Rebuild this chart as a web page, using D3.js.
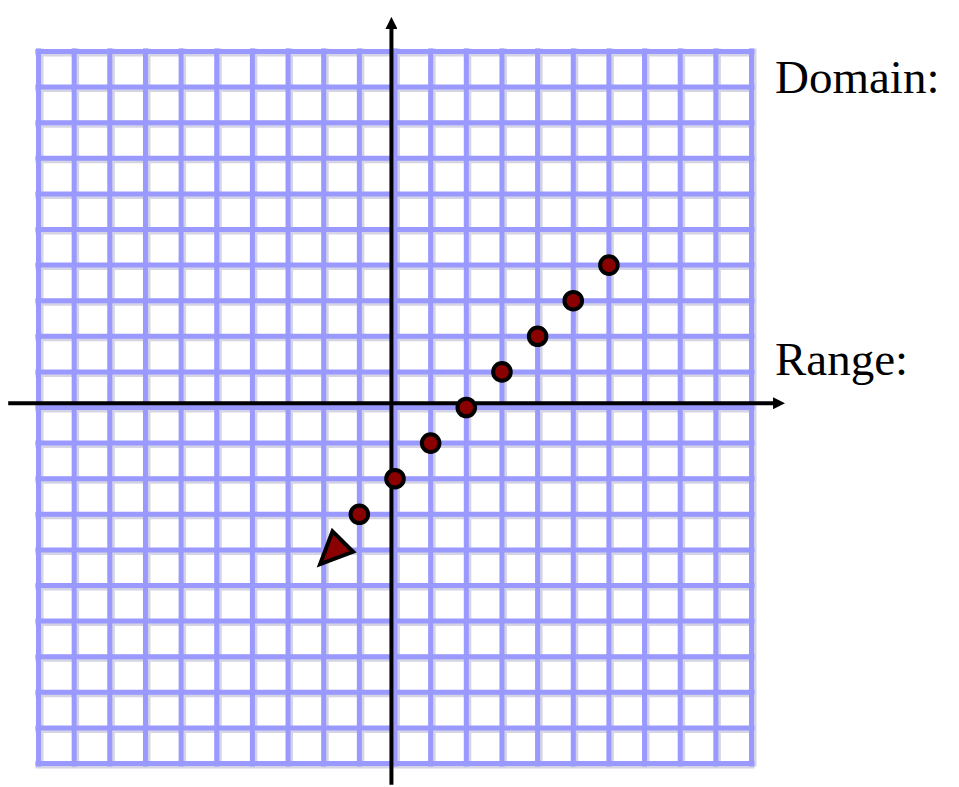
<!DOCTYPE html>
<html><head><meta charset="utf-8">
<script src="https://cdn.jsdelivr.net/npm/d3@7"></script>
<style>html,body{margin:0;padding:0;background:#fff;}svg{display:block;}</style>
</head><body>
<script>
// ---- data ----
const gridTicks = d3.range(-10, 11, 1);           // grid lines at integer values
const pointsX = [6, 5, 4, 3, 2, 1, 0, -1];
const pointsY = [4, 3, 2, 1, 0, -1, -2, -3];
const arrowTip = [-2.1, -4.4];                    // end arrowhead of the point sequence
const axisOrigin = [-0.1, 0.12];                  // where the drawn axes cross
const xAxisExtent = [-10.85, 10.97];
const yAxisExtent = [-10.6, 11.0];
const labels = ["Domain:", "Range:"];
const labelY = [8.83, 0.91];

const W = 959, H = 787;
const x = d3.scaleLinear().domain([-10, 10]).range([38.5, 751.5]);
const y = d3.scaleLinear().domain([-10, 10]).range([763.5, 51.5]);

const svg = d3.select("body").append("svg").attr("width", W).attr("height", H);
const defs = svg.append("defs");
defs.append("marker").attr("id", "ah").attr("viewBox", "0 0 12 12")
  .attr("refX", 1).attr("refY", 6).attr("markerWidth", 12).attr("markerHeight", 12)
  .attr("markerUnits", "userSpaceOnUse").attr("orient", "auto")
  .append("path").attr("d", "M0,0L12,6L0,12Z").attr("fill", "#000");

// grid background
svg.append("rect").attr("x", x(-10)).attr("y", y(10))
  .attr("width", x(10) - x(-10)).attr("height", y(-10) - y(10)).attr("fill", "#fff");

const grid = svg.append("g");
// soft shadow
grid.selectAll("line.vs").data(gridTicks).join("line")
  .attr("x1", d => x(d) + 1.5).attr("x2", d => x(d) + 1.5)
  .attr("y1", y(10) - 3).attr("y2", y(-10) + 3)
  .attr("stroke", "#d4d4e4").attr("stroke-width", 7);
grid.selectAll("line.hs").data(gridTicks).join("line")
  .attr("y1", d => y(d) + 1.5).attr("y2", d => y(d) + 1.5)
  .attr("x1", x(-10) - 3).attr("x2", x(10) + 3)
  .attr("stroke", "#d4d4e4").attr("stroke-width", 7);
grid.selectAll("line.v").data(gridTicks).join("line").attr("class", "v")
  .attr("x1", d => x(d)).attr("x2", d => x(d))
  .attr("y1", y(10) - 3).attr("y2", y(-10) + 3)
  .attr("stroke", "#9999ff").attr("stroke-width", 5);
grid.selectAll("line.h").data(gridTicks).join("line").attr("class", "h")
  .attr("y1", d => y(d)).attr("y2", d => y(d))
  .attr("x1", x(-10) - 3).attr("x2", x(10) + 3)
  .attr("stroke", "#9999ff").attr("stroke-width", 5);

// axes
svg.append("line")
  .attr("x1", x(xAxisExtent[0])).attr("x2", x(xAxisExtent[1]) - 12)
  .attr("y1", y(axisOrigin[1])).attr("y2", y(axisOrigin[1]))
  .attr("stroke", "#000").attr("stroke-width", 4).attr("marker-end", "url(#ah)");
svg.append("line")
  .attr("x1", x(axisOrigin[0])).attr("x2", x(axisOrigin[0]))
  .attr("y1", y(yAxisExtent[0])).attr("y2", y(yAxisExtent[1]) + 12)
  .attr("stroke", "#000").attr("stroke-width", 4).attr("marker-end", "url(#ah)");

// arrowhead triangle (points down-left)
const tx = x(arrowTip[0]), ty = y(arrowTip[1]);
svg.append("path")
  .attr("transform", `translate(${tx},${ty}) rotate(135)`)
  .attr("d", "M0,0L-32,-14.5L-32,14.5Z")
  .attr("fill", "#8b0000").attr("stroke", "#000").attr("stroke-width", 4)
  .attr("stroke-linejoin", "miter");

// points
svg.selectAll("circle.p").data(pointsX.map((d, i) => [d, pointsY[i]])).join("circle")
  .attr("cx", d => x(d[0])).attr("cy", d => y(d[1])).attr("r", 8.8)
  .attr("fill", "#8b0000").attr("stroke", "#000").attr("stroke-width", 4);

// labels
svg.selectAll("text.lab").data(labels).join("text")
  .attr("x", 775).attr("y", (d, i) => y(labelY[i]))
  .attr("font-family", "Liberation Serif, Times New Roman, serif")
  .attr("font-size", 47).attr("fill", "#000").text(d => d);
</script>
</body></html>
